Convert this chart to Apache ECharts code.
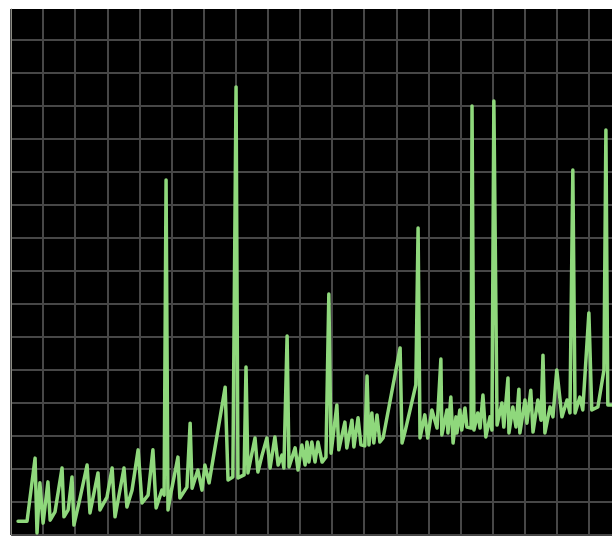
<!DOCTYPE html>
<html>
<head>
<meta charset="utf-8">
<script src="https://cdn.jsdelivr.net/npm/echarts@6/dist/echarts.min.js"></script>
<style>
html,body{margin:0;padding:0;background:#fff;}
#chart{width:612px;height:536px;}
</style>
</head>
<body>
<div id="chart"></div>
<script>
// x positions (10 units per grid cell) and values (10 units per grid cell)
var xs = [2.2, 5.0, 7.5, 8.1, 9.0, 10.0, 11.5, 12.2, 13.7, 15.9, 16.5, 17.8, 19.0, 19.6, 21.5, 23.7, 24.6, 27.1, 27.7, 29.9,
  31.5, 32.4, 35.2, 36.1, 37.7, 39.6, 40.8, 42.7, 44.2, 45.2, 47.0, 47.7, 48.3, 48.9, 49.8, 52.0, 52.6, 54.8, 55.8, 56.4,
  58.2, 59.5, 60.4, 61.7, 66.7, 67.6, 69.1, 70.1, 70.7,
  72.6, 73.2, 73.8, 74.4, 76.0, 76.9, 78.2, 79.7, 80.7, 82.2, 83.2, 84.4, 85.0, 86.0, 86.6, 88.5, 89.4, 90.6, 91.6, 92.2,
  92.8, 93.7, 94.7, 95.6, 96.9, 98.1, 99.0, 99.7, 101.5, 102.1, 104.0, 104.6, 106.2, 106.8, 108.1, 109.0, 110.2, 110.9, 111.5, 112.4,
  113.0, 114.0, 114.9, 115.9, 121.2, 121.8, 122.7, 126.1, 126.8, 127.4, 128.9, 129.8, 131.1, 132.7, 133.9,
  134.2, 135.8, 136.1, 137.0, 137.7, 138.6, 138.9, 139.8, 140.4, 141.4, 142.0, 143.3, 143.6, 144.2, 145.4, 146.1, 147.0, 147.9, 149.2, 149.8,
  150.4, 151.4, 152.9, 153.5, 154.8, 155.1, 156.3, 157.3, 158.2, 158.5, 160.1, 160.7, 161.9, 162.6, 164.1, 165.1, 165.7, 166.3, 167.9, 168.8,
  170.0, 171.6, 173.2, 174.1, 175.0, 175.7, 177.2, 178.1, 180.0, 180.9, 182.8, 184.7, 185.3, 185.9, 187.2];
var ys = [4.2, 4.2, 23.3, 0.6, 15.8, 3.6, 16.1, 4.5, 7.0, 20.3, 5.5, 7.6, 17.6, 3.0, 11.2, 21.2, 6.7, 18.8, 7.6, 11.5,
  20.3, 5.5, 20.3, 8.5, 13.6, 25.8, 9.7, 12.1, 25.8, 8.2, 13.6, 12.1, 107.6, 7.6, 12.7, 23.6, 11.2, 14.5, 33.9, 14.2,
  19.7, 13.6, 21.2, 15.8, 44.8, 16.7, 17.6, 135.8, 17.3,
  18.2, 50.9, 18.8, 18.2, 29.4, 19.1, 24.2, 29.4, 20.3, 29.7, 21.2, 24.2, 20.3, 60.3, 20.6, 26.4, 19.7, 27.3, 21.2, 28.2,
  22.1, 28.2, 22.1, 28.2, 22.1, 23.6, 73.0, 24.8, 39.4, 25.8, 34.2, 26.4, 34.8, 26.7, 35.5, 27.3, 27.0, 48.2, 27.3, 37.0,
  27.9, 36.4, 28.2, 29.4, 56.7, 27.9, 31.2, 45.5, 93.0, 29.4, 36.4, 29.4, 37.9, 32.4, 53.3,
  30.3, 37.9, 30.9, 41.8, 27.9, 35.8, 30.9, 37.9, 31.8, 38.5, 32.7, 32.4, 130.0, 31.8, 37.0, 32.4, 42.4, 29.7, 35.8, 31.8,
  131.5, 33.3, 40.0, 32.7, 47.6, 30.9, 38.8, 32.7, 44.2, 30.9, 40.9, 33.9, 43.9, 31.2, 40.9, 34.8, 54.5, 30.9, 38.8, 35.8,
  50.0, 35.8, 40.9, 37.0, 110.6, 37.0, 41.8, 37.9, 67.3, 37.9, 38.8, 50.0, 122.7, 39.4, 39.4];

var data = xs.map(function (x, i) { return [x, ys[i]]; });

var chart = echarts.init(document.getElementById('chart'), null, {renderer: 'canvas'});
chart.setOption({
  animation: false,
  backgroundColor: '#ffffff',
  grid: {left: 11, top: 9, right: 0, bottom: 1, show: true, backgroundColor: '#000000', borderWidth: 0},
  xAxis: {
    type: 'value', min: 0, max: 187.2, interval: 10,
    axisLabel: {show: false}, axisTick: {show: false}, axisLine: {show: false},
    splitLine: {show: true, showMaxLine: false, lineStyle: {color: '#474747', width: 2}}
  },
  yAxis: {
    type: 'value', min: 0, max: 159.4, interval: 10,
    axisLabel: {show: false}, axisTick: {show: false},
    axisLine: {show: true, lineStyle: {color: '#8c8c84', width: 1}},
    splitLine: {show: true, showMaxLine: false, lineStyle: {color: '#474747', width: 2}}
  },
  series: [{
    type: 'line', data: data, showSymbol: false, smooth: false,
    lineStyle: {color: '#8fd87c', width: 3.5, join: 'round', cap: 'round'},
    itemStyle: {color: '#8fd87c'}
  }]
});
</script>
</body>
</html>
